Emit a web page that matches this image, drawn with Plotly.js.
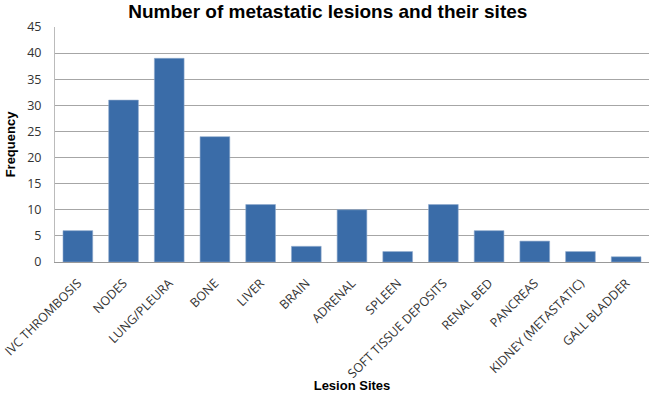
<!DOCTYPE html>
<html><head><meta charset="utf-8">
<script src="https://cdn.plot.ly/plotly-3.0.1.min.js"></script>
<style>html,body{margin:0;padding:0;background:#fff}#c{width:653px;height:393px}</style>
</head><body><div id="c"></div>
<script>
const categories = ["IVC THROMBOSIS","NODES","LUNG/PLEURA","BONE","LIVER","BRAIN","ADRENAL","SPLEEN","SOFT TISSUE DEPOSITS","RENAL BED","PANCREAS","KIDNEY (METASTATIC)","GALL BLADDER"];
const frequency = [6,31,39,24,11,3,10,2,11,6,4,2,1];
const yTicks = [0,5,10,15,20,25,30,35,40,45];

Plotly.newPlot('c', [{
  type: 'bar', x: categories, y: frequency,
  marker: {color: '#3A6CA8', line: {color: '#8FAACC', width: 0.6}},
  hoverinfo: 'none'
}], {
  width: 653, height: 393,
  margin: {l: 55, r: 4, t: 27, b: 131},
  paper_bgcolor: '#fff', plot_bgcolor: '#fff',
  bargap: 0.35,
  font: {family: 'Open Sans, sans-serif', color: '#333'},
  title: {text: '<b>Number of metastatic lesions and their sites</b>', font: {size: 19, family: 'Liberation Sans, Arial, sans-serif', color: '#000'}, x: 0.502, xanchor: 'center', y: 0.972, yanchor: 'middle'},
  xaxis: {
    tickangle: -45, tickfont: {size: 12.5, color: '#333', family: 'Open Sans, sans-serif'},
    showline: true, linecolor: '#999', linewidth: 1, ticks: 'outside', tickcolor: 'rgba(0,0,0,0)', ticklen: 8, showgrid: false,
    title: {text: '<b>Lesion Sites</b>', font: {size: 13, family: 'Liberation Sans, Arial, sans-serif', color: '#000'}, standoff: 12}
  },
  yaxis: {
    range: [0, 45], tickvals: yTicks, ticktext: yTicks.map(String),
    tickfont: {size: 12.5, color: '#333', family: 'Open Sans, sans-serif'},
    showgrid: true, gridcolor: '#A6A6A6', gridwidth: 1, zeroline: false,
    showline: true, linecolor: '#bbb', linewidth: 1, ticks: 'outside', tickcolor: 'rgba(0,0,0,0)', ticklen: 10,
    title: {text: '<b>Frequency</b>', font: {size: 13, family: 'Liberation Sans, Arial, sans-serif', color: '#000'}, standoff: 8}
  },
  showlegend: false
}, {displayModeBar: false, staticPlot: true});
</script></body></html>
